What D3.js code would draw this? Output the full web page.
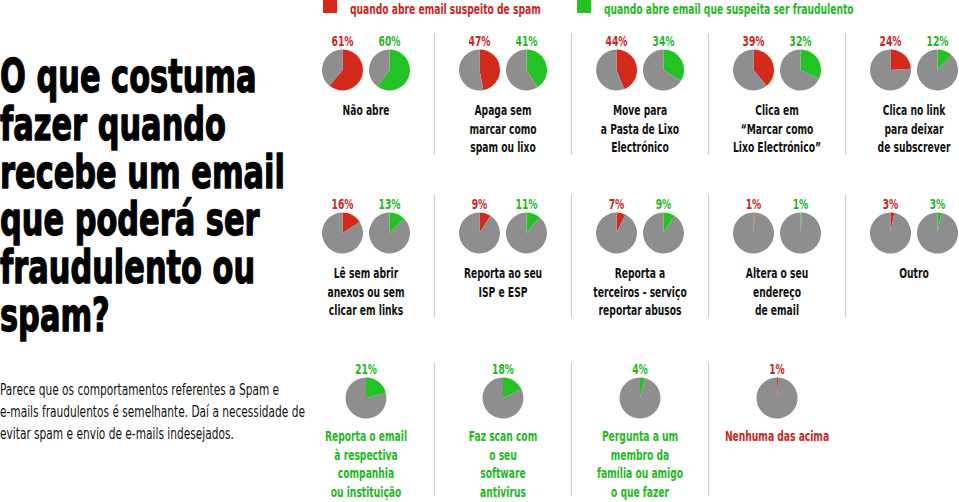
<!DOCTYPE html>
<html><head><meta charset="utf-8">
<script src="https://cdn.jsdelivr.net/npm/d3@7"></script>
<style>
html,body{margin:0;padding:0;background:#fff;}
svg{display:block;}
</style></head>
<body>
<svg id="chart" width="959" height="502"></svg>
<script>
// ---------- DATA ----------
const legendLabels = ["quando abre email suspeito de spam", "quando abre email que suspeita ser fraudulento"];
const titleLines = ["O que costuma", "fazer quando", "recebe um email", "que poderá ser", "fraudulento ou", "spam?"];
const noteLines = ["Parece que os comportamentos referentes a Spam e", "e-mails fraudulentos é semelhante. Daí a necessidade de", "evitar spam e envio de e-mails indesejados."];

const row1Categories = ["Não abre", "Apaga sem\nmarcar como\nspam ou lixo", "Move para\na Pasta de Lixo\nElectrónico", "Clica em\n“Marcar como\nLixo Electrónico”", "Clica no link\npara deixar\nde subscrever"];
const row1Spam = [61, 47, 44, 39, 24];
const row1Fraud = [60, 41, 34, 32, 12];

const row2Categories = ["Lê sem abrir\nanexos ou sem\nclicar em links", "Reporta ao seu\nISP e ESP", "Reporta a\nterceiros - serviço\nreportar abusos", "Altera o seu\nendereço\nde email", "Outro"];
const row2Spam = [16, 9, 7, 1, 3];
const row2Fraud = [13, 11, 9, 1, 3];

const row3Categories = ["Reporta o email\nà respectiva\ncompanhia\nou instituição", "Faz scan com\no seu\nsoftware\nantivirus", "Pergunta a um\nmembro da\nfamília ou amigo\no que fazer", "Nenhuma das acima"];
const row3Values = [21, 18, 4, 1];
const row3Series = ["fraud", "fraud", "fraud", "spam"];

// ---------- STYLE ----------
const RED = "#d42a1c", GREEN = "#22c322", GRAY = "#8e8e8e";
const TXT_RED = "#c9261d", TXT_GREEN = "#1fb81f";
const FONT = "'Liberation Sans Narrow','Arial Narrow','DejaVu Sans Condensed',sans-serif";
const svg = d3.select("#chart");

// measure helper to emulate a condensed face
function measure(str, size, weight) {
  const t = svg.append("text").attr("font-family", FONT).attr("font-size", size)
    .attr("font-weight", weight).text(str);
  const w = t.node().getComputedTextLength();
  t.remove();
  return w;
}
const fTitle = 285 / measure("recebe um email", 47, "bold");
const fLabel = 191 / measure("quando abre email suspeito de spam", 14.5, "bold");
const fNote = 305 / measure("e-mails fraudulentos é semelhante. Daí a necessidade de", 16, "normal");

function ctext(parent, x, y, str, opts) {
  const g = parent.append("g").attr("transform", `translate(${x},${y}) scale(${opts.f},1)`);
  const t = g.append("text").attr("font-family", FONT).attr("font-size", opts.size)
    .attr("font-weight", opts.weight || "bold").attr("fill", opts.fill || "#111")
    .attr("text-anchor", opts.anchor || "middle").text(str);
  if (opts.stroke) t.attr("stroke", opts.fill).attr("stroke-width", opts.stroke).attr("stroke-linejoin", "round");
  return g;
}

// ---------- SCALES ----------
const x = d3.scaleBand().domain(d3.range(5)).range([297.5, 982.5]).padding(0);
const cx = i => x(i) + x.bandwidth() / 2;
const pieOffset = d3.scaleOrdinal().domain(["spam", "fraud"]).range([-23.5, 23.5]);
const color = d3.scaleOrdinal().domain(["spam", "fraud"]).range([RED, GREEN]);
const tcolor = d3.scaleOrdinal().domain(["spam", "fraud"]).range([TXT_RED, TXT_GREEN]);
const R = 20.5;
const pie = d3.pie().sort(null).value(d => d);
const arc = d3.arc().innerRadius(0).outerRadius(R);

function drawPie(px, py, value, series) {
  const g = svg.append("g").attr("transform", `translate(${px},${py})`);
  g.selectAll("path").data(pie([value, 100 - value])).join("path")
    .attr("d", arc).attr("fill", (d, i) => i === 0 ? color(series) : GRAY);
}

// ---------- LEGEND ----------
const legendX = [323, 577];
["spam", "fraud"].forEach((s, i) => {
  svg.append("rect").attr("x", legendX[i]).attr("y", -1).attr("width", 14).attr("height", 14).attr("fill", color(s));
  ctext(svg, legendX[i] + 27, 13.5, legendLabels[i], {f: fLabel, size: 14.5, fill: tcolor(s), anchor: "start"});
});

// ---------- TITLE ----------
const titleY = d3.scaleLinear().domain([0, titleLines.length - 1]).range([92, 331]);
titleLines.forEach((l, i) => ctext(svg, 0, titleY(i), l, {f: fTitle, size: 47, fill: "#000", anchor: "start", stroke: 1.3}));

// ---------- NOTE ----------
noteLines.forEach((l, i) => ctext(svg, 0, 395 + i * 22, l, {f: fNote, size: 16, weight: "normal", fill: "#111", anchor: "start"}));

// ---------- ROWS ----------
function dividers(n, y0, y1) {
  for (let i = 1; i < n; i++) {
    svg.append("line").attr("x1", x(i)).attr("x2", x(i)).attr("y1", y0).attr("y2", y1)
      .attr("stroke", "#cfcfcf").attr("stroke-width", 1.2);
  }
}
function labelLines(i, yStart, str, fill) {
  str.split("\n").forEach((l, k) => ctext(svg, cx(i), yStart + k * 18.6, l, {f: fLabel, size: 14.5, fill}));
}
function pairRow(cats, spam, fraud, pieY, y0, y1) {
  dividers(cats.length, y0, y1);
  cats.forEach((c, i) => {
    [["spam", spam[i]], ["fraud", fraud[i]]].forEach(([s, v]) => {
      const px = cx(i) + pieOffset(s);
      ctext(svg, px, pieY - 24, v + "%", {f: fLabel, size: 14.5, fill: tcolor(s)});
      drawPie(px, pieY, v, s);
    });
    labelLines(i, pieY + 45, c, "#111");
  });
}
pairRow(row1Categories, row1Spam, row1Fraud, 70, 33, 155);
pairRow(row2Categories, row2Spam, row2Fraud, 233, 195, 317);

// row 3
dividers(row3Categories.length, 363, 496);
row3Categories.forEach((c, i) => {
  const s = row3Series[i];
  ctext(svg, cx(i), 398 - 24, row3Values[i] + "%", {f: fLabel, size: 14.5, fill: tcolor(s)});
  drawPie(cx(i), 398, row3Values[i], s);
  labelLines(i, 398 + 43, c, tcolor(s));
});
</script>
</body></html>
